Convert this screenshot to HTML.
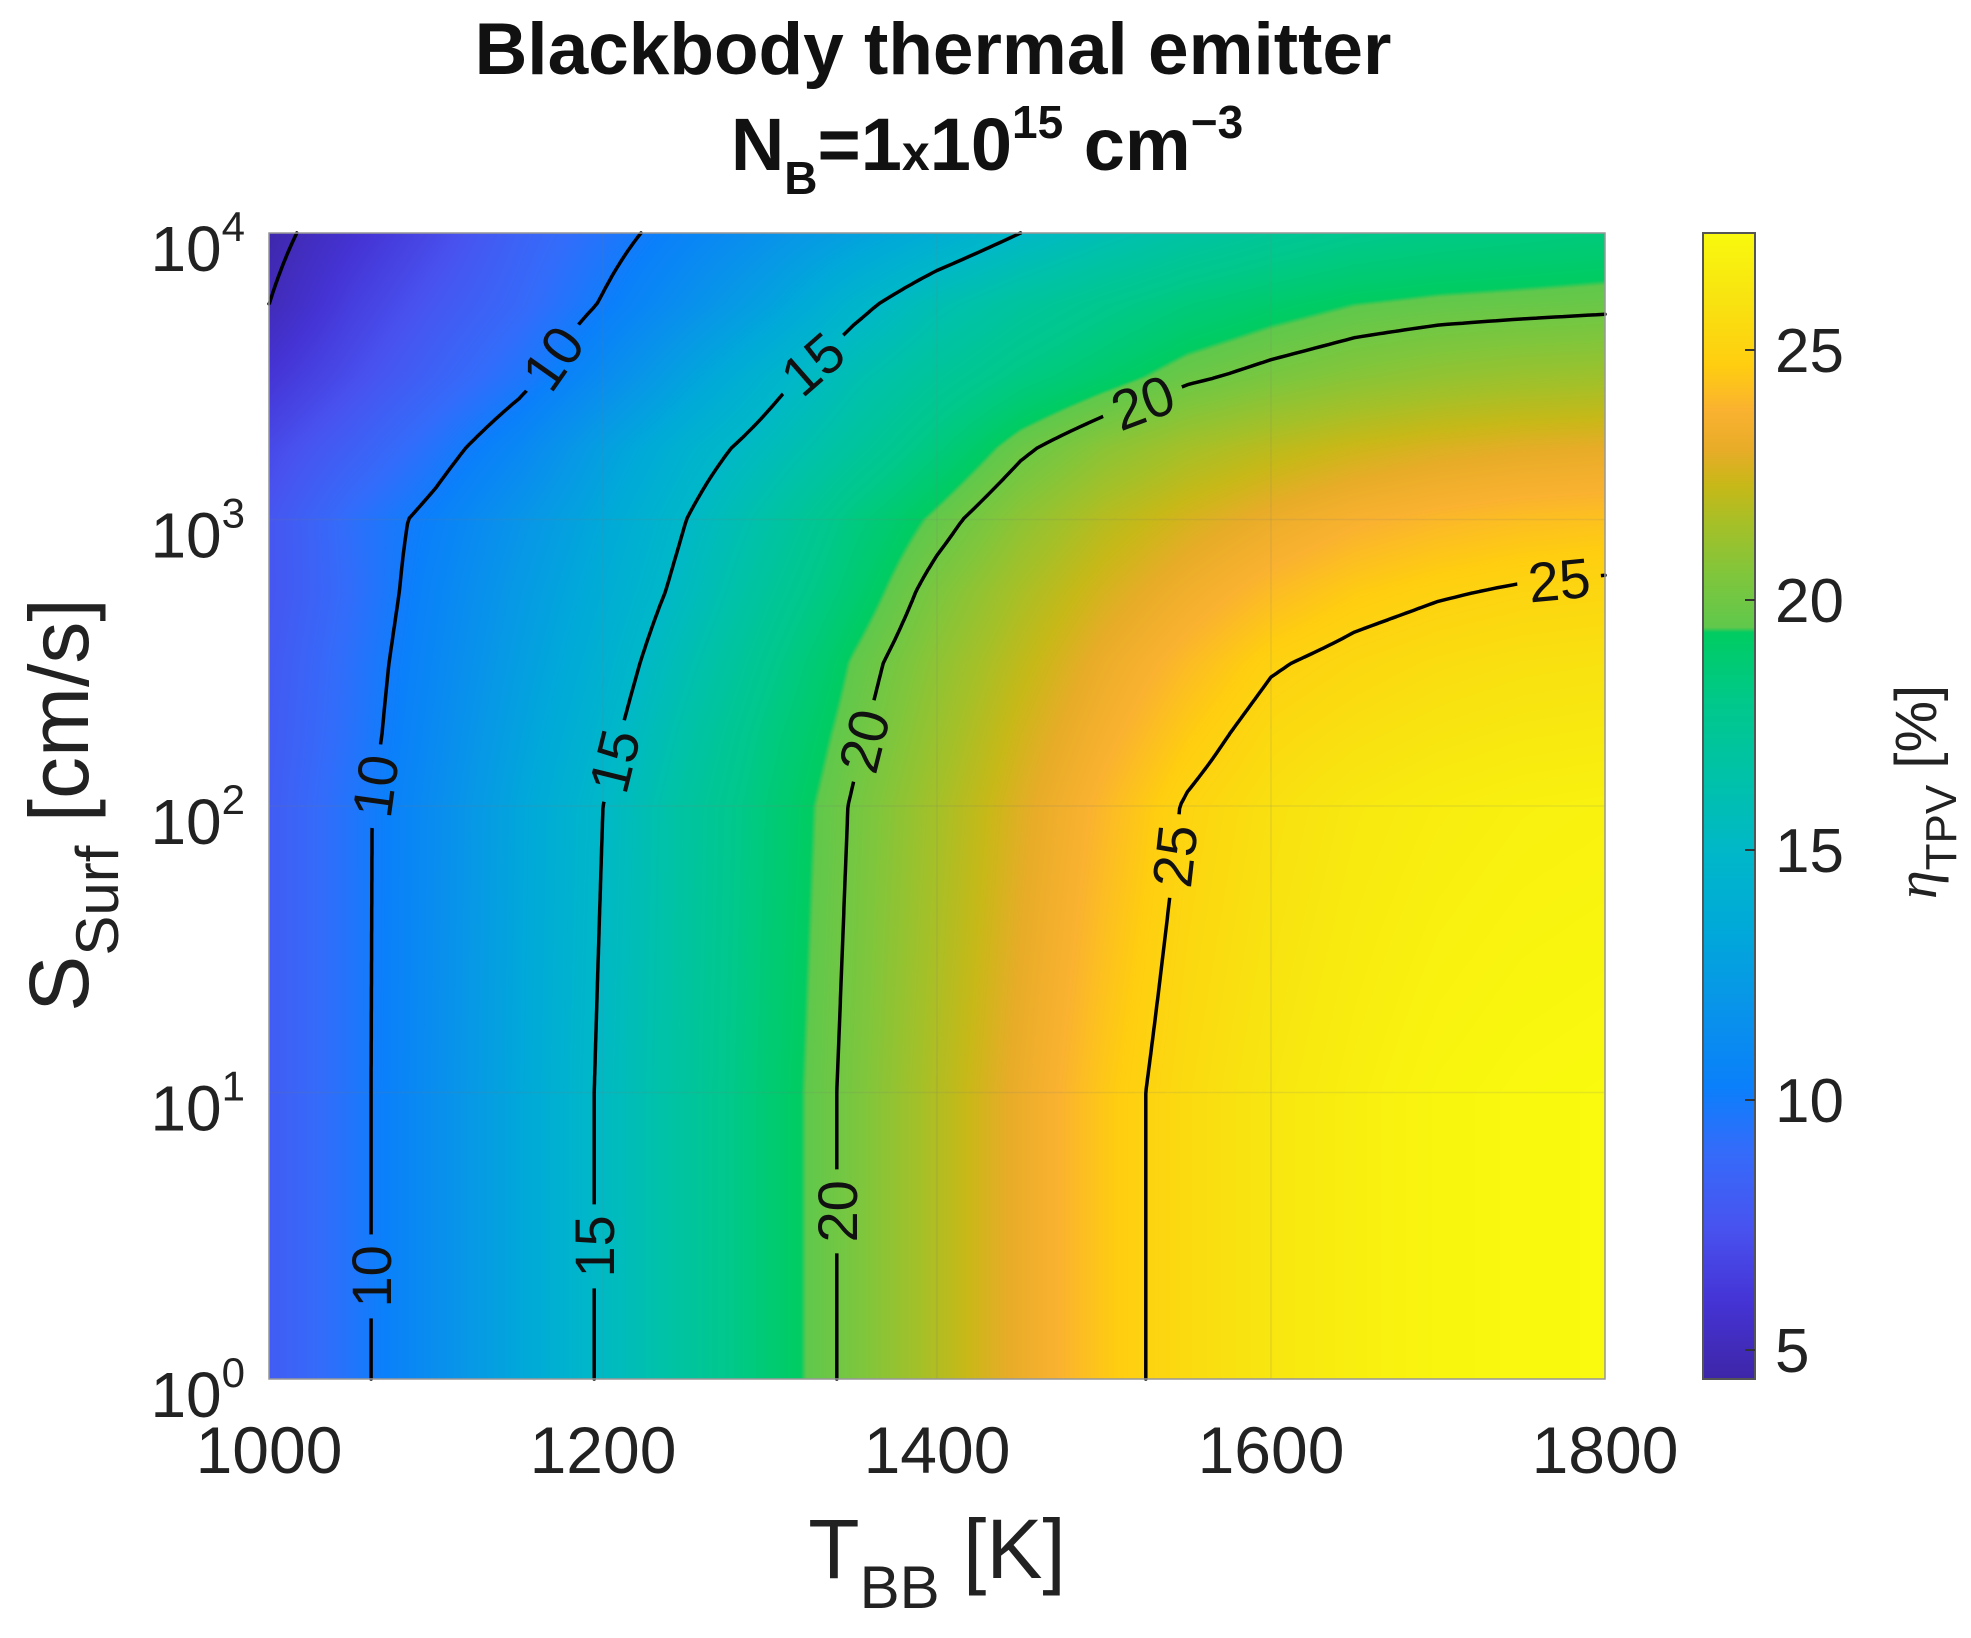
<!DOCTYPE html>
<html><head><meta charset="utf-8"><style>
html,body{margin:0;padding:0;background:#fff;}
#wrap{position:relative;width:1971px;height:1638px;overflow:hidden;font-family:"Liberation Sans",Arial,sans-serif;}
canvas{position:absolute;}
svg{position:absolute;left:0;top:0;}
</style></head><body>
<div id="wrap">
<canvas id="heat" width="1336" height="1146" style="left:269px;top:233px;"></canvas>
<canvas id="cbar" width="52" height="1146" style="left:1703px;top:233px;"></canvas>
<svg id="svg" width="1971" height="1638"></svg>
</div>
<script>
// ---- data ----
const temps = [1000,1050,1100,1150,1200,1250,1300,1350,1400,1450,1500,1550,1600,1650,1700,1750,1800];
const logS = [0,1,2,2.25,2.5,2.75,3,3.25,3.5,3.75,4];
const eff_s0    = [8.0,9.6,11.4,13.3,15.2,17.0,18.8,20.3,21.8,23.2,24.5,25.5,26.2,26.7,27.1,27.3,27.4];
const eff_s1    = [8.0,9.6,11.4,13.3,15.2,17.0,18.8,20.3,21.8,23.2,24.5,25.5,26.2,26.7,27.1,27.3,27.4];
const eff_s2    = [8.0,9.6,11.3,13.2,15.0,16.9,18.6,20.1,21.5,22.8,24.0,25.1,25.8,26.3,26.6,26.8,26.9];
const eff_s2_25 = [7.9,9.4,11.1,12.9,14.6,16.5,18.3,19.8,21.2,22.5,23.6,24.6,25.4,25.8,26.1,26.3,26.4];
const eff_s2_5  = [7.8,9.3,10.9,12.6,14.2,16.0,17.8,19.5,20.9,22.1,23.2,24.1,24.9,25.3,25.6,25.8,25.9];
const eff_s2_75 = [7.6,9.1,10.7,12.3,13.8,15.4,17.2,18.8,20.4,21.6,22.6,23.4,24.1,24.6,24.9,25.1,25.2];
const eff_s3    = [7.6,9.2,10.4,11.9,13.4,15.0,16.6,18.3,19.6,20.9,21.9,22.6,23.2,23.7,24.0,24.2,24.3];
const eff_s3_25 = [7.0,8.2,9.5,10.9,12.7,14.3,15.6,17.0,18.4,19.8,20.8,21.5,22.0,22.4,22.7,22.9,23.0];
const eff_s3_5  = [6.0,7.2,8.4,9.6,11.2,12.9,14.5,16.0,17.2,18.2,19.0,19.8,20.3,20.7,21.0,21.2,21.3];
const eff_s3_75 = [5.0,6.5,7.7,8.8,10.1,11.5,12.9,14.6,16.0,17.0,17.8,18.5,19.0,19.4,19.6,19.7,19.8];
const eff_s4    = [4.6,5.8,7.0,8.4,9.5,10.6,11.7,12.8,13.9,15.0,15.9,16.7,17.3,17.8,18.1,18.3,18.5];
const effGrid = [eff_s0,eff_s1,eff_s2,eff_s2_25,eff_s2_5,eff_s2_75,eff_s3,eff_s3_25,eff_s3_5,eff_s3_75,eff_s4];
const contourLevels = [5,10,15,20,25];
const labelSpots = {10:[0.36,2.07,3.56],15:[0.47,2.16,3.54],20:[0.58,2.22,3.41],25:[1.83,2.79]};
const xTicks = [1000,1200,1400,1600,1800];
const yTickExp = [0,1,2,3,4];
const cTicks = [5,10,15,20,25];
const cMin = 4.42, cMax = 27.34;

// ---- layout ----
const PL=269, PR=1605, PT=233, PB=1379;
const CX0=1703, CX1=1755;
const xS = t => PL + (t-1000)/800*(PR-PL);
const yS = l => PB - l/4*(PB-PT);
const cY = v => PB - (v-cMin)/(cMax-cMin)*(PB-PT);

const stops = [[4.42,[62,38,168]],[6,[69,52,214]],[7.5,[72,84,240]],[9,[52,108,250]],[10.3,[10,128,250]],[12,[8,150,232]],[13.5,[0,170,216]],[15,[0,184,200]],[16.5,[0,194,168]],[18,[0,201,138]],[19.35,[0,204,98]],[19.45,[96,200,76]],[20.5,[128,198,60]],[21.5,[165,192,40]],[22.3,[200,184,24]],[23,[232,172,40]],[23.8,[250,178,48]],[24.7,[255,206,16]],[26,[248,227,16]],[27.4,[249,250,14]]];
function cmap(v){
  if(v<=stops[0][0]) return stops[0][1];
  for(let i=1;i<stops.length;i++){ if(v<=stops[i][0]){const a=stops[i-1],b=stops[i];const f=(v-a[0])/(b[0]-a[0]);return a[1].map((c,k)=>c+(b[1][k]-c)*f);} }
  return stops[stops.length-1][1];
}
function val(t,l){
  let i=Math.min(temps.length-2,Math.max(0,Math.floor((t-1000)/50)));
  let fx=(t-temps[i])/(temps[i+1]-temps[i]);
  let j=0; while(j<logS.length-2 && l>logS[j+1]) j++;
  let fy=(l-logS[j])/(logS[j+1]-logS[j]);
  const g=effGrid;
  return (g[j][i]*(1-fx)+g[j][i+1]*fx)*(1-fy)+(g[j+1][i]*(1-fx)+g[j+1][i+1]*fx)*fy;
}
// heatmap
{const c=document.getElementById('heat'),ctx=c.getContext('2d');const W=c.width,H=c.height;const im=ctx.createImageData(W,H);
for(let y=0;y<H;y++){const l=(PB-(PT+y+0.5))/(PB-PT)*4;for(let x=0;x<W;x++){const t=1000+(x+0.5)/W*800;const col=cmap(val(t,l));const p=(y*W+x)*4;im.data[p]=col[0];im.data[p+1]=col[1];im.data[p+2]=col[2];im.data[p+3]=255;}}
ctx.putImageData(im,0,0);}
{const c=document.getElementById('cbar'),ctx=c.getContext('2d');for(let y=0;y<c.height;y++){const v=cMax-(y+0.5)/c.height*(cMax-cMin);const col=cmap(v);ctx.fillStyle=`rgb(${col.map(Math.round).join(',')})`;ctx.fillRect(0,y,c.width,1);}}

const NS='http://www.w3.org/2000/svg';const svg=document.getElementById('svg');
function mk(tag,attrs,parent){const e=document.createElementNS(NS,tag);for(const k in attrs)e.setAttribute(k,attrs[k]);(parent||svg).appendChild(e);return e;}

// grid + frame
for(const t of xTicks){const g=mk('line',{x1:xS(t),x2:xS(t),y1:PT,y2:PB,stroke:'rgba(120,120,120,0.15)','stroke-width':1.5});

}
for(const e of yTickExp){const g=mk('line',{x1:PL,x2:PR,y1:yS(e),y2:yS(e),stroke:'rgba(120,120,120,0.15)','stroke-width':1.5});

}

// contours via marching squares
const defs=mk('defs',{});const mask=mk('mask',{id:'lblmask',maskUnits:'userSpaceOnUse',x:0,y:0,width:1971,height:1638},defs);
mk('rect',{x:0,y:0,width:1971,height:1638,fill:'#fff'},mask);
const cg=mk('g',{mask:'url(#lblmask)'});


const NX=161,NY=230;
const gv=[];
for(let j=0;j<NY;j++){gv.push([]);const l=j/(NY-1)*4;for(let i=0;i<NX;i++){gv[j].push(val(1000+i/(NX-1)*800,l));}}
const px=i=>xS(1000+i/(NX-1)*800), py=j=>yS(j/(NY-1)*4);
const segsByLevel={};
for(const L0 of contourLevels){
  const L=L0+1e-6;
  const segs=[];
  for(let j=0;j<NY-1;j++)for(let i=0;i<NX-1;i++){
    const c=[[i,j,gv[j][i]],[i+1,j,gv[j][i+1]],[i+1,j+1,gv[j+1][i+1]],[i,j+1,gv[j+1][i]]];
    const pts=[];
    for(let k=0;k<4;k++){const a=c[k],b=c[(k+1)%4];if((a[2]-L)*(b[2]-L)<0){const f=(L-a[2])/(b[2]-a[2]);pts.push([px(a[0]+(b[0]-a[0])*f),py(a[1]+(b[1]-a[1])*f)]);}}
    if(pts.length>=2)segs.push([pts[0],pts[1]]);
    if(pts.length===4)segs.push([pts[2],pts[3]]);
  }
  segsByLevel[L0]=segs;
  let d='';for(const s of segs)d+=`M${s[0][0].toFixed(1)},${s[0][1].toFixed(1)}L${s[1][0].toFixed(1)},${s[1][1].toFixed(1)}`;
  const p=mk('path',{d:d,stroke:'#000','stroke-width':3.5,fill:'none','stroke-linecap':'round'},cg);
  
  
}
// contour labels
for(const L in labelSpots){
  for(const ls of labelSpots[L]){
    const ty=yS(ls);let best=null,bd=1e9;
    for(const s of segsByLevel[L]){const my=(s[0][1]+s[1][1])/2;const d=Math.abs(my-ty);if(d<bd){bd=d;best=s;}}
    if(!best)continue;
    const cx=(best[0][0]+best[1][0])/2,cy=(best[0][1]+best[1][1])/2;
    let dx=best[1][0]-best[0][0],dy=best[1][1]-best[0][1];
    if(dy>0||(dy===0&&dx<0)){dx=-dx;dy=-dy;}
    const ang=Math.atan2(dy,dx)*180/Math.PI;
    mk('rect',{x:cx-42,y:cy-24,width:84,height:48,fill:'#000',transform:`rotate(${ang} ${cx} ${cy})`},mask);
    const t=mk('text',{x:cx,y:cy+20,'text-anchor':'middle','font-size':56,fill:'#111',transform:`rotate(${ang} ${cx} ${cy})`});
    t.textContent=L;
    
    
  }
}
// frame
mk('rect',{x:PL,y:PT,width:PR-PL,height:PB-PT,fill:'none',stroke:'#999','stroke-width':1.5});
mk('rect',{x:CX0,y:PT,width:CX1-CX0,height:PB-PT,fill:'none',stroke:'#555','stroke-width':2});

// x ticks
for(const t of xTicks){const e=mk('text',{x:xS(t),y:1473,'text-anchor':'middle','font-size':66,fill:'#222'});e.textContent=t;

}
// y ticks
for(const e of yTickExp){const t=mk('text',{x:245,y:yS(e)+38,'text-anchor':'end','font-size':64,fill:'#222'});


const a=document.createElementNS(NS,'tspan');a.textContent='10';t.appendChild(a);
const b=document.createElementNS(NS,'tspan');b.setAttribute('dy','-30');b.setAttribute('font-size','42');b.textContent=e;t.appendChild(b);}
// colorbar ticks
for(const v of cTicks){mk('line',{x1:CX1-10,x2:CX1,y1:cY(v),y2:cY(v),stroke:'#333','stroke-width':2});
const t=mk('text',{x:1775,y:cY(v)+22,'font-size':62,fill:'#222'});t.textContent=v;

}

// titles
const t1=mk('text',{x:933,y:74,'text-anchor':'middle','font-size':73,'font-weight':'bold',fill:'#111'});t1.textContent='Blackbody thermal emitter';


const t2=mk('text',{x:987,y:170,'text-anchor':'middle','font-size':74,'font-weight':'bold',fill:'#111'});


t2.innerHTML='<tspan>N</tspan><tspan dy="24" font-size="46">B</tspan><tspan dy="-24">=1</tspan><tspan font-size="50">x</tspan><tspan>10</tspan><tspan dy="-32" font-size="46">15</tspan><tspan dy="32"> cm</tspan><tspan dy="-32" font-size="46">−3</tspan>';
// x label
const xl=mk('text',{x:937,y:1578,'text-anchor':'middle','font-size':84,fill:'#222'});


xl.innerHTML='<tspan>T</tspan><tspan dy="30" font-size="60">BB</tspan><tspan dy="-30"> [K]</tspan>';
// y label
const yl=mk('text',{x:0,y:0,'text-anchor':'middle','font-size':84,fill:'#222',transform:'translate(88 805) rotate(-90)'});


yl.innerHTML='<tspan>S</tspan><tspan dy="30" font-size="60">Surf</tspan><tspan dy="-30"> [cm/s]</tspan>';
// colorbar label
const cl=mk('text',{x:0,y:0,'text-anchor':'middle','font-size':58,fill:'#222',transform:'translate(1936 792) rotate(-90)'});


cl.innerHTML='<tspan font-family="Liberation Serif, serif" font-style="italic">η</tspan><tspan dy="20" font-size="44">TPV</tspan><tspan dy="-20"> [%]</tspan>';
</script>
</body></html>
